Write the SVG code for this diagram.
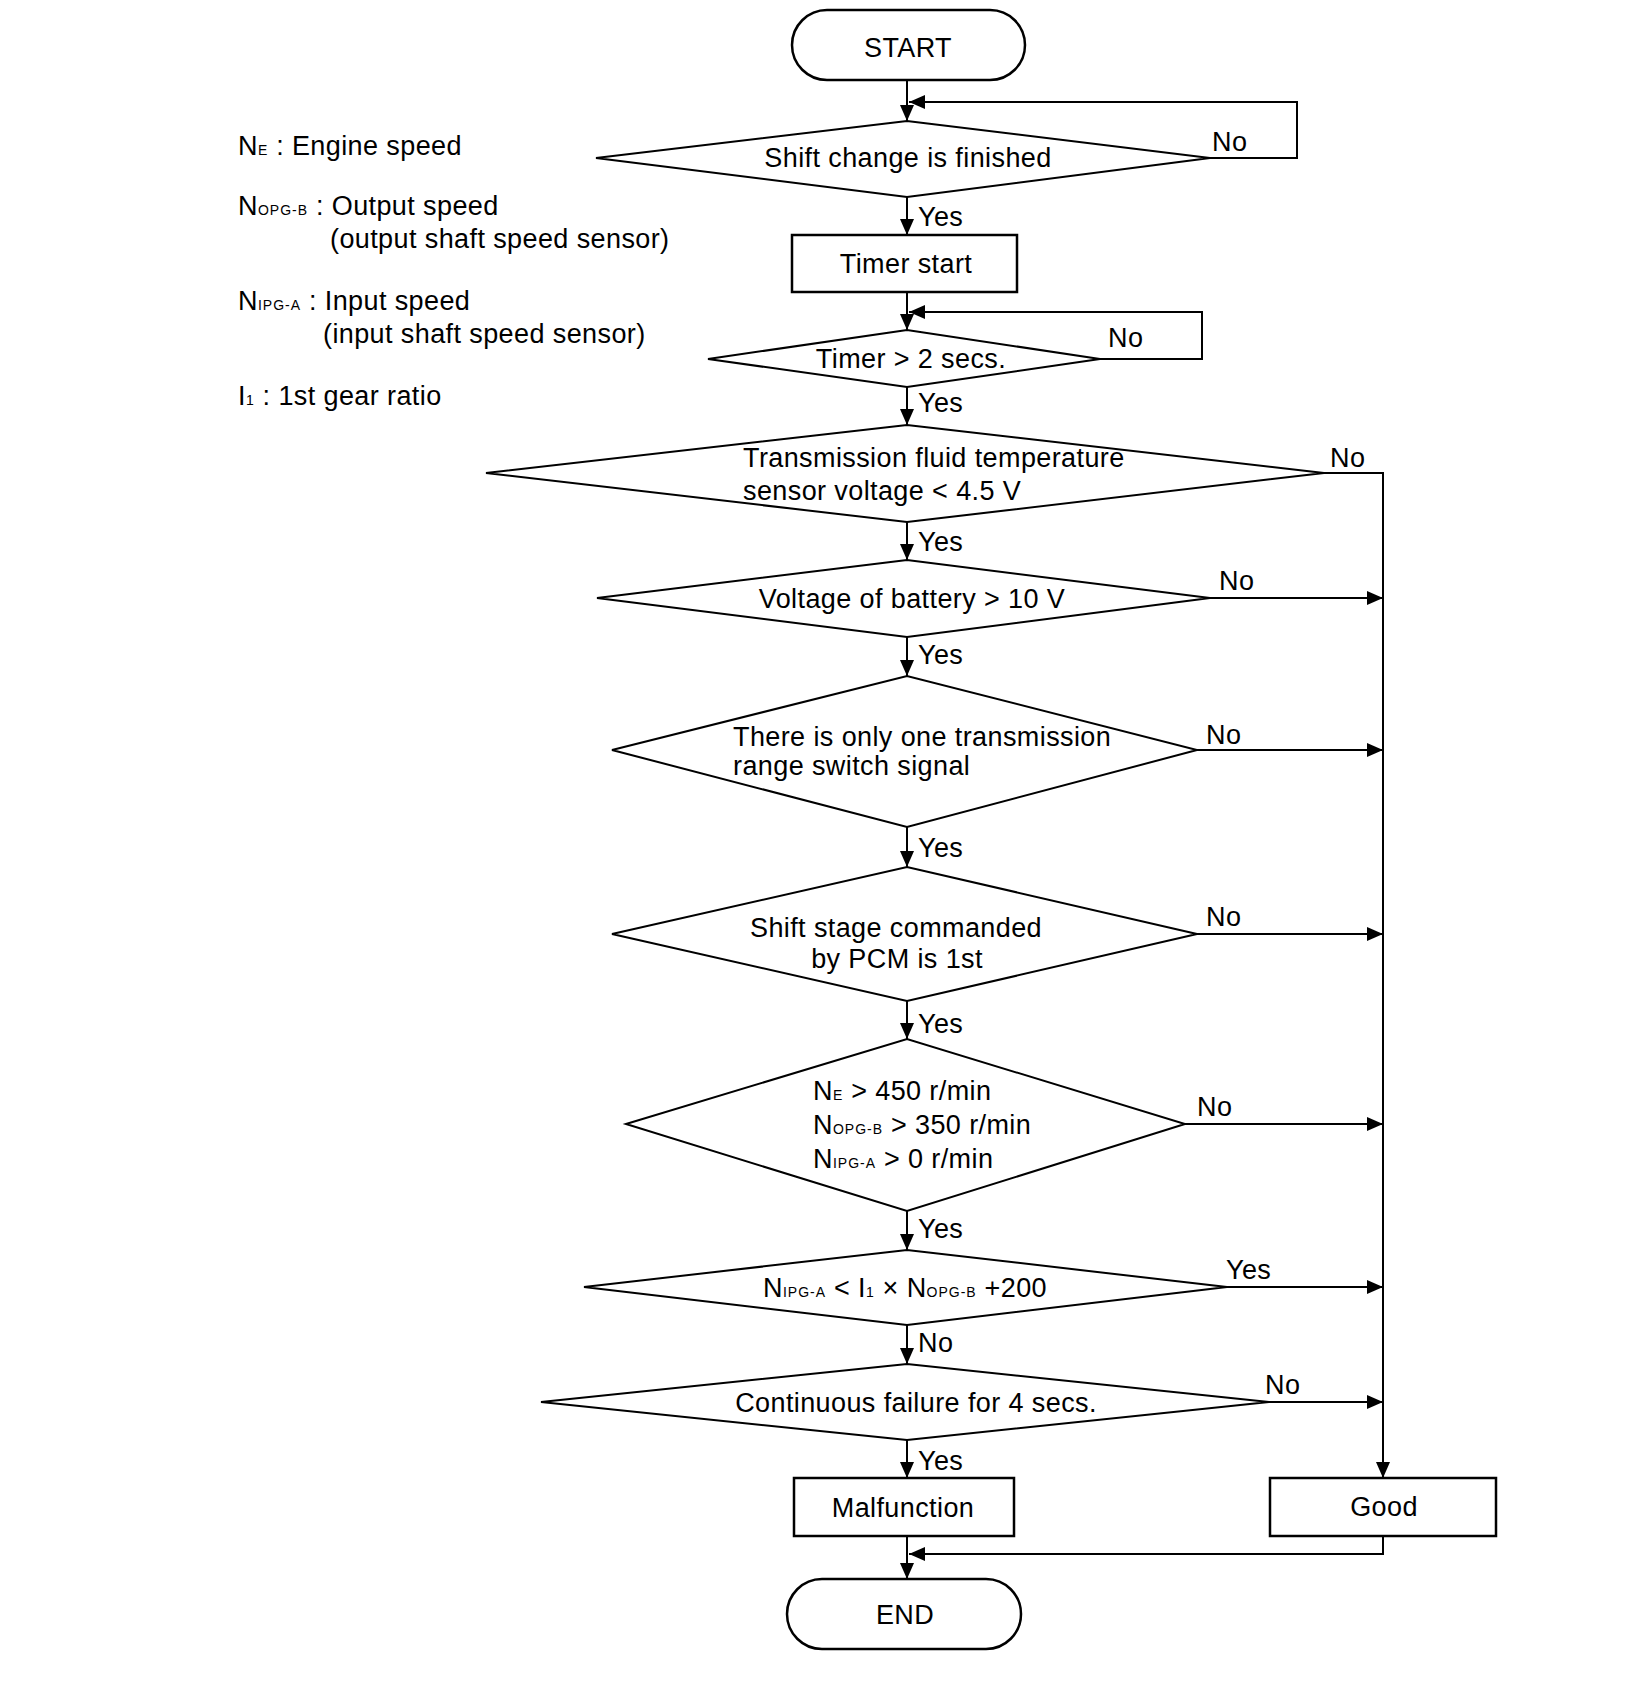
<svg xmlns="http://www.w3.org/2000/svg" width="1648" height="1696" viewBox="0 0 1648 1696">
<style>
text{font-family:"Liberation Sans",Arial,Helvetica,sans-serif;font-size:27px;letter-spacing:0.4px;fill:#000}
.sub{font-size:14px;letter-spacing:1px}
.c{text-anchor:middle}
.box{fill:#fff;stroke:#000;stroke-width:2.5}
.dia{fill:#fff;stroke:#000;stroke-width:2}
.ln{fill:none;stroke:#000;stroke-width:2}
.ar{fill:none;stroke:#000;stroke-width:2;marker-end:url(#ah)}
</style>
<defs>
<marker id="ah" markerUnits="userSpaceOnUse" markerWidth="16" markerHeight="14" refX="16" refY="7" orient="auto">
<path d="M0,0 L16,7 L0,14 z" fill="#000"/>
</marker>
</defs>
<rect width="1648" height="1696" fill="#fff"/>

<g id="legend">
<text x="238" y="155">N<tspan class="sub">E</tspan> : Engine speed</text>
<text x="238" y="215">N<tspan class="sub">OPG-B</tspan> : Output speed</text>
<text x="330" y="248">(output shaft speed sensor)</text>
<text x="238" y="310">N<tspan class="sub">IPG-A</tspan> : Input speed</text>
<text x="323" y="343">(input shaft speed sensor)</text>
<text x="238" y="405">I<tspan class="sub">1</tspan> : 1st gear ratio</text>
</g>

<g id="connectors">
<path class="ar" d="M907,80 V121"/>
<path class="ar" d="M1210,158 H1297 V102 H909"/>
<path class="ar" d="M907,197 V235"/>
<path class="ar" d="M907,292 V330"/>
<path class="ar" d="M1100,359 H1202 V312 H909"/>
<path class="ar" d="M907,387 V425"/>
<path class="ar" d="M907,522 V560"/>
<path class="ar" d="M1324,473 H1383 V1478"/>
<path class="ar" d="M907,637 V676"/>
<path class="ar" d="M1210,598 H1383"/>
<path class="ar" d="M907,827 V867"/>
<path class="ar" d="M1197,750 H1383"/>
<path class="ar" d="M907,1001 V1039"/>
<path class="ar" d="M1197,934 H1383"/>
<path class="ar" d="M907,1211 V1250"/>
<path class="ar" d="M1185,1124 H1383"/>
<path class="ar" d="M907,1325 V1364"/>
<path class="ar" d="M1227,1287 H1383"/>
<path class="ar" d="M907,1440 V1478"/>
<path class="ar" d="M1269,1402 H1383"/>
<path class="ar" d="M907,1536 V1579"/>
<path class="ar" d="M1383,1536 V1554 H909"/>
<text x="1212" y="151">No</text>
<text x="918" y="226">Yes</text>
<text x="1108" y="347">No</text>
<text x="918" y="412">Yes</text>
<text x="1330" y="467">No</text>
<text x="918" y="551">Yes</text>
<text x="1219" y="590">No</text>
<text x="918" y="664">Yes</text>
<text x="1206" y="744">No</text>
<text x="918" y="857">Yes</text>
<text x="1206" y="926">No</text>
<text x="918" y="1033">Yes</text>
<text x="1197" y="1116">No</text>
<text x="918" y="1238">Yes</text>
<text x="1226" y="1279">Yes</text>
<text x="918" y="1352">No</text>
<text x="1265" y="1394">No</text>
<text x="918" y="1470">Yes</text>
</g>

<g id="start">
<rect class="box" x="792" y="10" width="233" height="70" rx="35"/>
<text class="c" x="908" y="57">START</text>
</g>
<g id="d1">
<polygon class="dia" points="596,158 907,121 1210,158 907,197"/>
<text class="c" x="908" y="167">Shift change is finished</text>
</g>
<g id="timer-start">
<rect class="box" x="792" y="235" width="225" height="57"/>
<text class="c" x="906" y="273">Timer start</text>
</g>
<g id="d2">
<polygon class="dia" points="708,359 907,330 1100,359 907,387"/>
<text class="c" x="911" y="368">Timer &gt; 2 secs.</text>
</g>
<g id="d3">
<polygon class="dia" points="486,473 907,425 1324,473 907,522"/>
<text x="743" y="467">Transmission fluid temperature</text>
<text x="743" y="500">sensor voltage &lt; 4.5 V</text>
</g>
<g id="d4">
<polygon class="dia" points="597,598 907,560 1210,598 907,637"/>
<text class="c" x="912" y="608">Voltage of battery &gt; 10 V</text>
</g>
<g id="d5">
<polygon class="dia" points="612,750 907,676 1197,750 907,827"/>
<text x="733" y="746">There is only one transmission</text>
<text x="733" y="775">range switch signal</text>
</g>
<g id="d6">
<polygon class="dia" points="612,934 907,867 1197,934 907,1001"/>
<text class="c" x="896" y="937">Shift stage commanded</text>
<text class="c" x="897" y="968">by PCM is 1st</text>
</g>
<g id="d7">
<polygon class="dia" points="626,1124 907,1039 1185,1124 907,1211"/>
<text x="813" y="1100">N<tspan class="sub">E</tspan> &gt; 450 r/min</text>
<text x="813" y="1134">N<tspan class="sub">OPG-B</tspan> &gt; 350 r/min</text>
<text x="813" y="1168">N<tspan class="sub">IPG-A</tspan> &gt; 0 r/min</text>
</g>
<g id="d8">
<polygon class="dia" points="584,1287 907,1250 1227,1287 907,1325"/>
<text x="763" y="1297">N<tspan class="sub">IPG-A</tspan> &lt; I<tspan class="sub">1</tspan> × N<tspan class="sub">OPG-B</tspan> +200</text>
</g>
<g id="d9">
<polygon class="dia" points="541,1402 907,1364 1269,1402 907,1440"/>
<text class="c" x="916" y="1412">Continuous failure for 4 secs.</text>
</g>
<g id="malfunction">
<rect class="box" x="794" y="1478" width="220" height="58"/>
<text class="c" x="903" y="1517">Malfunction</text>
</g>
<g id="good">
<rect class="box" x="1270" y="1478" width="226" height="58"/>
<text class="c" x="1384" y="1516">Good</text>
</g>
<g id="end">
<rect class="box" x="787" y="1579" width="234" height="70" rx="35"/>
<text class="c" x="905" y="1624">END</text>
</g>
</svg>
